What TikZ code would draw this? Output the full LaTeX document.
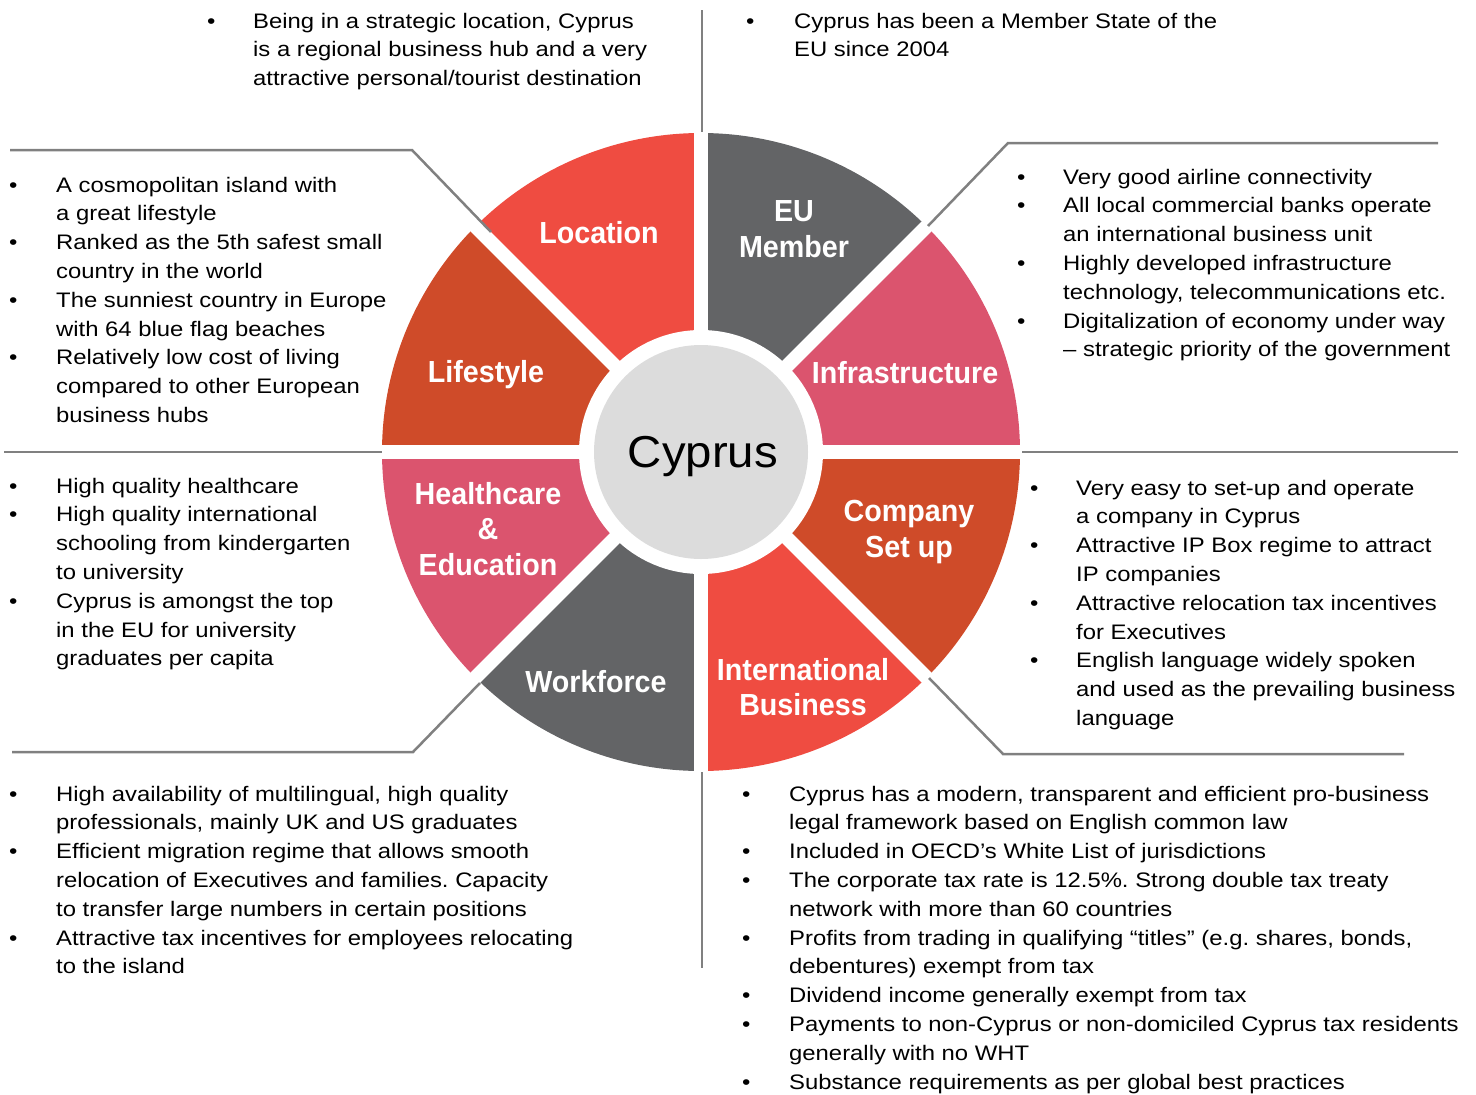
\documentclass[tikz,border=0pt]{standalone}
\usepackage{fontspec}
\usepackage{array}
\setmainfont{Liberation Sans}[FakeStretch=1.136]
\newfontfamily\wheelfont{Liberation Sans}[FakeStretch=0.94]
\newfontfamily\hubfont{Liberation Sans}[FakeStretch=1.06]
\definecolor{cyred}{RGB}{239,76,65}
\definecolor{cyorange}{RGB}{207,75,41}
\definecolor{cypink}{RGB}{219,84,110}
\definecolor{cygrey}{RGB}{99,100,102}
\definecolor{cyhub}{RGB}{220,220,220}
\definecolor{cyline}{RGB}{128,128,128}
\frenchspacing
\begin{document}
\begin{tikzpicture}
	[x=1pt,y=-1pt,
	seclabel/.style={text=white,font=\wheelfont\bfseries\fontsize{30.5}{35.5}\selectfont,align=center,inner sep=0pt},
	facts/.style={anchor=base west,inner sep=0pt,font=\fontsize{21}{28.8}\selectfont},
	divider/.style={draw=cyline,line width=2.5},]
	\useasboundingbox (0,0) rectangle (1476,1095);
	% wheel
	\begin{scope}[shift={(701,452)}]
		\foreach \c [count=\i from 0] in {cypink,cygrey,cyred,cyorange,cypink,cygrey,cyred,cyorange}
		{
			\fill[\c] (0,0) -- (-\i*45:319) arc[start angle=-\i*45,end angle=-\i*45-45,radius=319] -- cycle;
		}
		\foreach \a in {0,45,90,135}
		{
			\draw[white,line width=14] (\a:330) -- (\a+180:330);
		}
		\fill[white] (0,0) circle[radius=122];
		\node[circle,fill=cyhub,minimum size=214,inner sep=0pt,name=hub] at (0,0) {};
		\node[anchor=base,inner sep=0pt,font=\hubfont\fontsize{44.7}{50}\selectfont,name=cyprus] at (2,15) {Cyprus};
	\end{scope}
	\node[seclabel,name=location] at (599,233) {Location};
	\node[seclabel,name=eu] at (794,229) {EU\\Member};
	\node[seclabel,name=infra] at (905,373) {Infrastructure};
	\node[seclabel,name=company] at (909,532) {Company\\Set up};
	\node[seclabel,name=intl] at (803,687) {International\\Business};
	\node[seclabel,name=workforce] at (596,682) {Workforce};
	\node[seclabel,name=health] at (488,529) {Healthcare\\\&\\Education};
	\node[seclabel,name=lifestyle] at (486,375) {Lifestyle};
	% dividers
	\draw[divider] (702,10) -- (702,132);
	\draw[divider] (702,772) -- (702,968);
	\draw[divider] (4,452) -- (382,452);
	\draw[divider] (1022,452) -- (1458,452);
	\draw[divider] (10,150) -- (412,150) -- (491,232);
	\draw[divider] (928,226) -- (1008,143) -- (1438,143);
	\draw[divider] (480,683) -- (413,752) -- (12,752);
	\draw[divider] (929,678) -- (1003,754) -- (1404,754);
	% texts
	\node[facts,name=locationtext] at (207,28) {\begin{tabular}[t]{@{}p{46pt}@{}l@{}}
		\textbullet & Being in a strategic location, Cyprus\\
		& is a regional business hub and a very\\
		& attractive personal/tourist destination
	\end{tabular}};
	\node[facts,name=eutext] at (746,28) {\begin{tabular}[t]{@{}p{48pt}@{}l@{}}
		\textbullet & Cyprus has been a Member State of the\\
		& EU since 2004
	\end{tabular}};
	\node[facts,name=infratext] at (1017,184) {\begin{tabular}[t]{@{}p{46pt}@{}l@{}}
		\textbullet & Very good airline connectivity\\
		\textbullet & All local commercial banks operate\\
		& an international business unit\\
		\textbullet & Highly developed infrastructure\\
		& technology, telecommunications etc.\\
		\textbullet & Digitalization of economy under way\\
		& – strategic priority of the government
	\end{tabular}};
	\node[facts,name=companytext] at (1030,495) {\begin{tabular}[t]{@{}p{46pt}@{}l@{}}
		\textbullet & Very easy to set-up and operate\\
		& a company in Cyprus\\
		\textbullet & Attractive IP Box regime to attract\\
		& IP companies\\
		\textbullet & Attractive relocation tax incentives\\
		& for Executives\\
		\textbullet & English language widely spoken\\
		& and used as the prevailing business\\
		& language
	\end{tabular}};
	\node[facts,name=intltext] at (742,801) {\begin{tabular}[t]{@{}p{47pt}@{}l@{}}
		\textbullet & Cyprus has a modern, transparent and efficient pro-business\\
		& legal framework based on English common law\\
		\textbullet & Included in OECD’s White List of jurisdictions\\
		\textbullet & The corporate tax rate is 12.5\%. Strong double tax treaty\\
		& network with more than 60 countries\\
		\textbullet & Profits from trading in qualifying “titles” (e.g. shares, bonds,\\
		& debentures) exempt from tax\\
		\textbullet & Dividend income generally exempt from tax\\
		\textbullet & Payments to non-Cyprus or non-domiciled Cyprus tax residents\\
		& generally with no WHT\\
		\textbullet & Substance requirements as per global best practices
	\end{tabular}};
	\node[facts,name=workforcetext] at (9,801) {\begin{tabular}[t]{@{}p{47pt}@{}l@{}}
		\textbullet & High availability of multilingual, high quality\\
		& professionals, mainly UK and US graduates\\
		\textbullet & Efficient migration regime that allows smooth\\
		& relocation of Executives and families. Capacity\\
		& to transfer large numbers in certain positions\\
		\textbullet & Attractive tax incentives for employees relocating\\
		& to the island
	\end{tabular}};
	\node[facts,name=healthtext] at (9,493) {\begin{tabular}[t]{@{}p{47pt}@{}l@{}}
		\textbullet & High quality healthcare\\
		\textbullet & High quality international\\
		& schooling from kindergarten\\
		& to university\\
		\textbullet & Cyprus is amongst the top\\
		& in the EU for university\\
		& graduates per capita
	\end{tabular}};
	\node[facts,name=lifestyletext] at (9,192) {\begin{tabular}[t]{@{}p{47pt}@{}l@{}}
		\textbullet & A cosmopolitan island with\\
		& a great lifestyle\\
		\textbullet & Ranked as the 5th safest small\\
		& country in the world\\
		\textbullet & The sunniest country in Europe\\
		& with 64 blue flag beaches\\
		\textbullet & Relatively low cost of living\\
		& compared to other European\\
		& business hubs
	\end{tabular}};
\end{tikzpicture}
\end{document}
